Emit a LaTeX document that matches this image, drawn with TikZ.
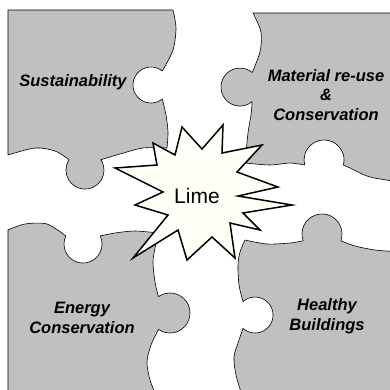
\documentclass[tikz,border=0pt]{standalone}
\usepackage{fontspec}
\setmainfont{Liberation Sans}
\definecolor{pieceGray}{HTML}{C0C0C0}
\definecolor{starFill}{HTML}{FFFEF6}
\tikzset{
  puzzle/.style={fill=pieceGray, draw=black, line width=0.6pt, line join=round},
  burst/.style={fill=starFill, draw=black, line width=1.5pt, line join=miter},
  lbl/.style={inner sep=0pt, align=center, font=\bfseries\itshape\fontsize{16.5}{19.5}\selectfont},
  limelbl/.style={inner sep=0pt, font=\fontsize{21}{24}\selectfont}
}
\begin{document}
\begin{tikzpicture}[x=1pt,y=1pt,yscale=-1]
\useasboundingbox (0,0) rectangle (390,389);
\clip (0,0) rectangle (390,389);
% top-left piece
\draw[puzzle] (8,10) -- (173,10)
  -- plot[smooth] coordinates {(173,10) (176,28) (173,50) (162.3,71)}
  arc[start angle=-51, end angle=-309, radius=18pt]
  -- plot[smooth] coordinates {(162.3,99) (166,115) (168,132) (167,148)}
  -- plot[smooth] coordinates {(167,148) (143,148) (120,154) (100.9,159.7)}
  arc[start angle=-33, end angle=213, radius=19pt]
  -- plot[smooth] coordinates {(69.1,159.7) (55,151) (35,148) (8,155)}
  -- cycle;
% top-right piece
\draw[puzzle] (253,13) -- (400,13) -- (400,182)
  -- plot[smooth] coordinates {(400,182) (370,177) (350,168) (343.4,165)}
  arc[start angle=14.5, end angle=-194.5, radius=20pt]
  -- plot[smooth] coordinates {(304.6,165) (290,163) (270,165) (245,163)}
  -- plot[smooth] coordinates {(245,163) (248,133) (251,115) (252.2,101.6)}
  arc[start angle=50, end angle=310, radius=19pt]
  -- plot[smooth] coordinates {(252.2,72.4) (260,52) (261,32) (253,13)}
  -- cycle;
% bottom-left piece
\draw[puzzle] (8,230)
  -- plot[smooth] coordinates {(8,230) (25,224) (47,224) (65.8,236)}
  arc[start angle=205, end angle=-25, radius=19pt]
  -- plot[smooth] coordinates {(100.2,236) (115,233) (135,231) (158,233)}
  -- plot[smooth] coordinates {(158,233) (155,248) (153,262) (155,282) (158.5,296.6)}
  arc[start angle=-125, end angle=125, radius=20pt]
  -- plot[smooth] coordinates {(158.5,329.4) (151,345) (147,362) (150,380) (156,395)}
  -- (8,395) -- cycle;
% bottom-right piece
\draw[puzzle] (245,240)
  -- plot[smooth] coordinates {(245,240) (267,244) (290,243) (303.2,240.8)}
  arc[start angle=160, end angle=380, radius=20pt]
  -- plot[smooth] coordinates {(340.8,240.8) (355,246) (375,250) (400,252)}
  -- (400,395) -- (242,395)
  -- plot[smooth] coordinates {(242,395) (236,375) (234,357) (238,343) (243,328.4)}
  arc[start angle=132, end angle=-132, radius=18pt]
  -- plot[smooth] coordinates {(243,301.6) (239,285) (238,265) (240,252) (245,240)}
  -- cycle;
% star
\draw[burst] (182,127) -- (202,149) -- (223,125) -- (222,153) -- (262,145)
  -- (237,172) -- (278,187) -- (238,196) -- (292,205) -- (243,213)
  -- (260,230) -- (230,223) -- (235,258) -- (212,237) -- (187,260)
  -- (178,230) -- (133,258) -- (168,215) -- (135,205) -- (163,192)
  -- (115,168) -- (157,165) -- (153,143) -- (175,155) -- cycle;
% labels
\node[lbl] (sust) at (73,82) {Sustainability};
\node[lbl] (mat) at (326,95) {Material re-use\\\&\\Conservation};
\node[lbl] (energy) at (82,318) {Energy\\Conservation};
\node[lbl] (health) at (327,316) {Healthy\\Buildings};
\node[limelbl] (lime) at (197,196) {Lime};
\end{tikzpicture}
\end{document}
